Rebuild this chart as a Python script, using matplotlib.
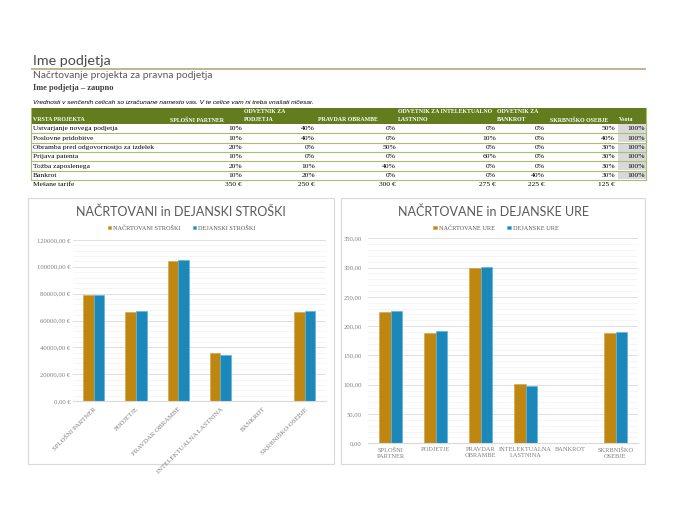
import numpy as np
import matplotlib.pyplot as plt
from matplotlib.patches import Rectangle
from matplotlib.ticker import MultipleLocator, FuncFormatter

# ---------- podatki ----------
table_headers = ["VRSTA PROJEKTA", "SPLOŠNI PARTNER", "ODVETNIK ZA\nPODJETJA", "PRAVDAR OBRAMBE",
                 "ODVETNIK ZA INTELEKTUALNO\nLASTNINO", "ODVETNIK ZA\nBANKROT", "SKRBNIŠKO OSEBJE", "Vsota"]
project_types = ["Ustvarjanje novega podjetja", "Poslovne pridobitve",
                 "Obramba pred odgovornostjo za izdelek", "Prijava patenta",
                 "Tožba zaposlenega", "Bankrot"]
shares = [[10, 40, 0, 0, 0, 50],
          [10, 40, 0, 10, 0, 40],
          [20, 0, 50, 0, 0, 30],
          [10, 0, 0, 60, 0, 30],
          [20, 10, 40, 0, 0, 30],
          [10, 20, 0, 0, 40, 30]]
rates = [350, 250, 300, 275, 225, 125]

categories = ["SPLOŠNI PARTNER", "PODJETJE", "PRAVDAR OBRAMBE",
              "INTELEKTUALNA LASTNINA", "BANKROT", "SKRBNIŠKO OSEBJE"]
categories_wrapped = ["SPLOŠNI\nPARTNER", "PODJETJE", "PRAVDAR\nOBRAMBE",
                      "INTELEKTUALNA\nLASTNINA", "BANKROT", "SKRBNIŠKO\nOSEBJE"]
planned_cost = [78750, 66100, 104600, 35500, 0, 66100]
actual_cost = [79300, 67100, 105300, 34500, 0, 66800]
planned_hours = [224, 188, 299, 101, 0, 188]
actual_hours = [226, 191, 301, 98, 0, 190]

GOLD = "#BF870F"
BLUE = "#1C87B9"
GREEN = "#627C1E"
LINE_GREEN = "#A6BF77"
GRAY_TXT = "#7F7F7F"
SERIF = "Liberation Serif"
SANS = "Lato"

W, H = 675, 520
fig = plt.figure(figsize=(W / 100, H / 100), dpi=100)
fig.patch.set_facecolor("white")

# overlay v pikslih (glava, tabela, okvirji grafov)
bg = fig.add_axes([0, 0, 1, 1], zorder=0)
bg.set_xlim(0, W)
bg.set_ylim(H, 0)
bg.axis("off")

bg.text(33, 61, "Ime podjetja", fontsize=10.3, family=SANS,
        color="#4A4A4A", va="center")
bg.plot([31, 646], [68.5, 68.5], color="#C2B391", lw=1.4, solid_capstyle="butt")
bg.text(33, 75.5, "Načrtovanje projekta za pravna podjetja", fontsize=7.4, family=SANS,
        color="#595959", va="center")
bg.text(33, 87.5, "Ime podjetja – zaupno", fontsize=6.0, family=SERIF, color="#404040",
        va="center", fontweight="bold")
bg.text(33, 102, "Vrednosti v senčenih celicah so izračunane namesto vas. "
        "V te celice vam ni treba vnašati ničesar.",
        fontsize=4.65, family="Liberation Sans", style="italic", color="black", va="center")

# ---------- tabela ----------
x_left, x_right = 31, 646
head_top, head_bot = 108, 124
row_h = 9.3
hdr_x = [33, 170, 244, 318, 398, 497, 550, 619]
val_right = [242, 315, 396, 496, 545, 615, 644.5]

bg.add_patch(Rectangle((x_left, head_top), x_right - x_left, head_bot - head_top,
                       facecolor=GREEN, edgecolor="none"))
for hx, htxt in zip(hdr_x, table_headers):
    lines = htxt.split("\n")
    if len(lines) == 2:
        bg.text(hx, 111.8, lines[0], fontsize=4.2, family=SERIF, fontweight="bold", color="white", va="center")
        bg.text(hx, 119.8, lines[1], fontsize=4.2, family=SERIF, fontweight="bold", color="white", va="center")
    else:
        bg.text(hx, 119.8, htxt, fontsize=4.2, family=SERIF, fontweight="bold", color="white", va="center")

for i, (name, row) in enumerate(zip(project_types, shares)):
    y0 = head_bot + i * row_h
    yc = y0 + row_h / 2 + 0.3
    bg.add_patch(Rectangle((618, y0 + 0.4), 27.5, row_h - 0.8, facecolor="#D9D9D9", edgecolor="none"))
    bg.text(33, yc, name, fontsize=5.4, family=SERIF, color="black", va="center")
    for j, v in enumerate(row):
        bg.text(val_right[j], yc, f"{v}%", fontsize=5.4, family=SERIF, color="black",
                va="center", ha="right")
    bg.text(val_right[6], yc, f"{sum(row)}%", fontsize=5.4, family=SERIF, color="black",
            va="center", ha="right")
    bg.plot([x_left, x_right], [y0 + row_h, y0 + row_h], color=LINE_GREEN, lw=0.8)

tbl_bot = head_bot + len(project_types) * row_h
bg.plot([x_left, x_left], [head_top, tbl_bot], color=LINE_GREEN, lw=0.8)
bg.plot([x_right, x_right], [head_top, tbl_bot], color=LINE_GREEN, lw=0.8)

bg.text(33, 184.5, "Mešane tarife", fontsize=5.4, family=SERIF, color="black", va="center")
for j, r in enumerate(rates):
    bg.text(val_right[j], 184.5, f"{r} €", fontsize=5.4, family=SERIF, color="black",
            va="center", ha="right")

# okvirji grafov
for bx0, bx1 in [(28, 334), (341, 645)]:
    bg.add_patch(Rectangle((bx0, 198), bx1 - bx0, 266, facecolor="white",
                           edgecolor="#D9D9D9", lw=0.8))
bg.text(181, 212, "NAČRTOVANI in DEJANSKI STROŠKI", fontsize=9.0, family=SANS,
        color="#595959", ha="center", va="center")
bg.text(493, 212, "NAČRTOVANE in DEJANSKE URE", fontsize=9.0, family=SANS,
        color="#595959", ha="center", va="center")


def style_axes(ax, major, minor, pad):
    ax.set_facecolor("none")
    for s in ["top", "right", "left"]:
        ax.spines[s].set_visible(False)
    ax.spines["bottom"].set_color("#D9D9D9")
    ax.spines["bottom"].set_linewidth(0.8)
    ax.yaxis.set_major_locator(MultipleLocator(major))
    ax.yaxis.set_minor_locator(MultipleLocator(minor))
    ax.grid(axis="y", which="major", color="#D9D9D9", lw=0.6)
    ax.grid(axis="y", which="minor", color="#F2F2F2", lw=0.5)
    ax.set_axisbelow(True)
    ax.tick_params(axis="both", which="both", length=0)
    ax.tick_params(axis="y", pad=pad, labelsize=4.8, labelcolor=GRAY_TXT)
    for lab in ax.get_yticklabels():
        lab.set_family(SERIF)


x = np.arange(len(categories))
bw = 0.25

# ---------- levi graf: stroški ----------
ax1 = fig.add_axes([72.7 / W, (H - 401) / H, 253.3 / W, 161 / H], zorder=2)
ax1.bar(x - bw / 2, planned_cost, bw, color=GOLD, edgecolor="#D4A040", lw=0.4,
        label="NAČRTOVANI STROŠKI")
ax1.bar(x + bw / 2, actual_cost, bw, color=BLUE, edgecolor="#5CB6E4", lw=0.5,
        label="DEJANSKI STROŠKI")
ax1.set_xlim(-0.5, 5.5)
ax1.set_ylim(0, 120000)
style_axes(ax1, 20000, 4000, 1.5)
ax1.yaxis.set_major_formatter(FuncFormatter(lambda v, p: f"{v:.2f}".replace(".", ",") + " €"))
ax1.set_xticks(x)
ax1.set_xticklabels(categories, rotation=45, ha="right", va="top", rotation_mode="anchor",
                    fontsize=4.9, color=GRAY_TXT, family=SERIF)
ax1.tick_params(axis="x", pad=4)
ax1.legend(loc="center", bbox_to_anchor=(0.43, 1.075), ncol=2, frameon=False,
           prop={"family": SERIF, "size": 4.5}, labelcolor="#595959",
           handlelength=0.55, handleheight=0.55, handletextpad=0.3, columnspacing=2.0)

# ---------- desni graf: ure ----------
ax2 = fig.add_axes([368 / W, (H - 443.3) / H, 270 / W, 205 / H], zorder=2)
ax2.bar(x - bw / 2, planned_hours, bw, color=GOLD, edgecolor="#D4A040", lw=0.4,
        label="NAČRTOVANE URE")
ax2.bar(x + bw / 2, actual_hours, bw, color=BLUE, edgecolor="#5CB6E4", lw=0.5,
        label="DEJANSKE URE")
ax2.set_xlim(-0.5, 5.5)
ax2.set_ylim(0, 350)
style_axes(ax2, 50, 10, 4.5)
ax2.yaxis.set_major_formatter(FuncFormatter(lambda v, p: f"{v:.2f}".replace(".", ",")))
ax2.set_xticks(x)
ax2.set_xticklabels(categories_wrapped, fontsize=4.6, color=GRAY_TXT, family=SERIF,
                    linespacing=1.2)
ax2.tick_params(axis="x", pad=3)
ax2.legend(loc="center", bbox_to_anchor=(0.474, 1.05), ncol=2, frameon=False,
           prop={"family": SERIF, "size": 4.5}, labelcolor="#595959",
           handlelength=0.55, handleheight=0.55, handletextpad=0.3, columnspacing=2.0)

fig.savefig("out.png", dpi=100)
